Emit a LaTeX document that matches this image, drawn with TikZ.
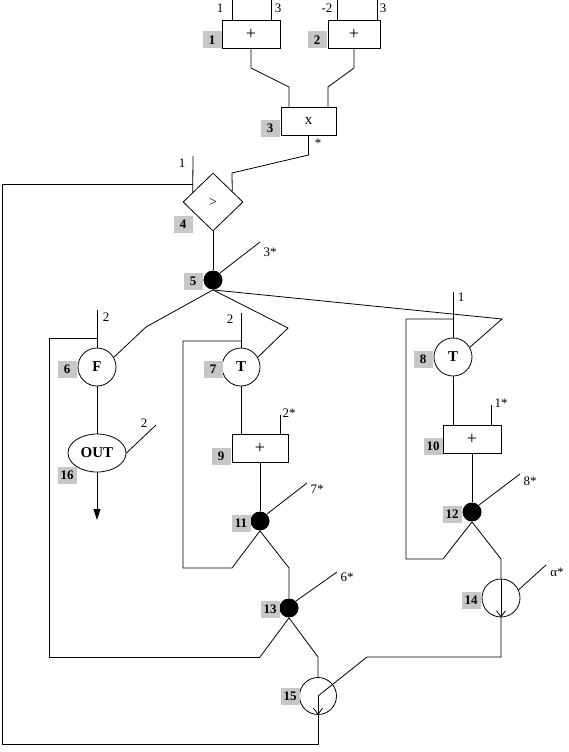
\documentclass[tikz,border=0pt]{standalone}
\usepackage{fontspec}
\setmainfont{Liberation Serif}
\usetikzlibrary{shapes.geometric,arrows.meta,calc}
\begin{document}
\begin{tikzpicture}[x=1pt,y=-1pt,line width=0.8pt,
  box/.style={draw,rectangle,minimum height=28pt,inner sep=0pt,font=\fontsize{18}{18}\selectfont},
  tag/.style={fill=black!22,minimum width=19pt,minimum height=17pt,inner sep=0pt,font=\fontsize{13}{13}\selectfont\bfseries},
  lbl/.style={inner sep=0pt,font=\fontsize{13}{13}\selectfont},
  cnode/.style={draw,circle,minimum size=38pt,inner sep=0pt,font=\fontsize{15}{15}\selectfont\bfseries},
  dot/.style={fill=black,circle,minimum size=19pt,inner sep=0pt},
  barb/.style={-{Straight Barb[length=6pt,width=9pt]}}
]
\useasboundingbox (0,0) rectangle (568,752);
% nodes
\node[box,minimum width=58pt] (b1) at (251,34) {+};
\node[box,minimum width=52pt] (b2) at (354,34) {+};
\node[box,minimum width=55pt,font=\fontsize{15}{15}\selectfont] (b3) at (308.5,121) {x};
\node[draw,diamond,minimum width=60pt,minimum height=58pt,inner sep=0pt,font=\fontsize{14}{14}\selectfont] (d4) at (213,202) {>};
\node[dot] (n5) at (213,280) {};
\node[cnode] (c6) at (97,367) {F};
\node[draw,ellipse,minimum width=58pt,minimum height=38pt,inner sep=0pt,font=\fontsize{15}{15}\selectfont\bfseries] (e16) at (97,453) {OUT};
\node[cnode] (c7) at (241,367) {T};
\node[box,minimum width=56pt] (b9) at (260,448) {+};
\node[dot] (n11) at (260,521) {};
\node[dot] (n13) at (289,608) {};
\node[cnode] (c8) at (453,357) {T};
\node[box,minimum width=58pt] (b10) at (472,439) {+};
\node[dot] (n12) at (472,512) {};
\node[cnode] (c14) at (501,598) {};
\node[draw,circle,minimum size=37pt,inner sep=0pt] (c15) at (318,696) {};
% tags
\node[tag] (t1) at (212,40) {1};
\node[tag] (t2) at (317,40) {2};
\node[tag] (t3) at (270,128) {3};
\node[tag] (t4) at (183,224) {4};
\node[tag] (t5) at (193,281) {5};
\node[tag] (t6) at (67,369) {6};
\node[tag] (t16) at (67,475) {16};
\node[tag] (t7) at (213,369) {7};
\node[tag] (t9) at (221,456) {9};
\node[tag] (t8) at (423,359) {8};
\node[tag] (t10) at (433,446) {10};
\node[tag] (t11) at (241,523) {11};
\node[tag] (t13) at (270,609) {13};
\node[tag] (t12) at (452,514) {12};
\node[tag] (t14) at (471,600) {14};
\node[tag] (t15) at (290,696) {15};
% free ends
\coordinate (i1a) at (232,0);
\coordinate (i1b) at (271,0);
\coordinate (i2a) at (337,0);
\coordinate (i2b) at (377,0);
\coordinate (i4) at (193,156);
\coordinate (o5) at (260,242);
\coordinate (i6) at (97,310);
\coordinate (o16) at (156,425);
\coordinate (a16) at (97,520);
\coordinate (i7) at (241,313);
\coordinate (i9) at (280,415);
\coordinate (o11) at (307,483);
\coordinate (o13) at (337,572);
\coordinate (i8) at (453,292);
\coordinate (i10) at (491,405);
\coordinate (o12) at (520,474);
\coordinate (o14) at (546,565);
% connectors
\draw (i1a) -- (i1a |- b1.north);
\draw (i1b) -- (i1b |- b1.north);
\draw (i2a) -- (i2a |- b2.north);
\draw (i2b) -- (i2b |- b2.north);
\draw (b1.south) -- (251,68) -- (289,87) -- (289,107);
\draw (b2.south) -- (354,68) -- (328,87) -- (328,107);
\draw (b3.south) -- (308.5,155) -- (232,173) -- ($(d4.north)!19/30!(d4.east)$);
\draw (i4) -- ($(d4.west)!1/3!(d4.north)$);
\draw (c15.south) -- (318,744) -- (2,744) -- (2,184) -- (193,184);
\draw (d4.south) -- (n5);
\draw (n5.45) -- (o5);
\draw (n5.south) -- (146,327) -- (c6.30);
\draw (n5.south) -- (288,328) -- (c7.30);
\draw (n5.south) -- (502,319) -- (c8.30);
\draw (i6) -- (c6.north);
\draw (260,657) -- (49,657) -- (49,338) -- (97,338);
\draw (c6) -- (e16);
\draw (e16.east) -- (o16);
\draw[-{Triangle[length=11pt,width=7pt]}] (e16.south) -- (a16);
\draw (i7) -- (c7.north);
\draw (c7.south) -- (c7.south |- b9.north);
\draw (i9) -- (i9 |- b9.north);
\draw (b9.south) -- (n11);
\draw (n11.45) -- (o11);
\draw (n11.south) -- (232,568) -- (183,568) -- (183,341) -- (241,341);
\draw (n11.south) -- (289,568) -- (n13);
\draw (n13.45) -- (o13);
\draw (n13.south) -- (260,657);
\draw (n13.south) -- (318,657) -- (c15.north);
\draw (i8) -- (c8.north);
\draw (c8.south) -- (c8.south |- b10.north);
\draw (i10) -- (i10 |- b10.north);
\draw (b10.south) -- (n12);
\draw (n12.45) -- (o12);
\draw (n12.south) -- (443,559) -- (406,559) -- (406,319) -- (453,319);
\draw (n12.south) -- (501,559) -- (c14.north);
\draw[barb] (c14.north) -- (c14.south);
\draw (c14.25) -- (o14);
\draw (c14.south) -- (501,657) -- (367,657) -- (c15.center);
\draw[barb] (c15.center) -- (c15.south);
% labels
\node[lbl] (l1) at (220,8) {1};
\node[lbl] (l2) at (278,8) {3};
\node[lbl] (l3) at (327,8) {-2};
\node[lbl] (l4) at (383,8) {3};
\node[lbl] (l5) at (318,143) {*};
\node[lbl] (l6) at (182,163) {1};
\node[lbl] (l7) at (270,252) {3*};
\node[lbl] (l8) at (106,317) {2};
\node[lbl] (l9) at (230,319) {2};
\node[lbl] (l10) at (144,423) {2};
\node[lbl] (l11) at (289,413) {2*};
\node[lbl] (l12) at (461,297) {1};
\node[lbl] (l13) at (501,403) {1*};
\node[lbl] (l14) at (317,489) {7*};
\node[lbl] (l15) at (347,577) {6*};
\node[lbl] (l16) at (530,481) {8*};
\node[lbl] (l17) at (557,572) {α*};
\end{tikzpicture}
\end{document}
